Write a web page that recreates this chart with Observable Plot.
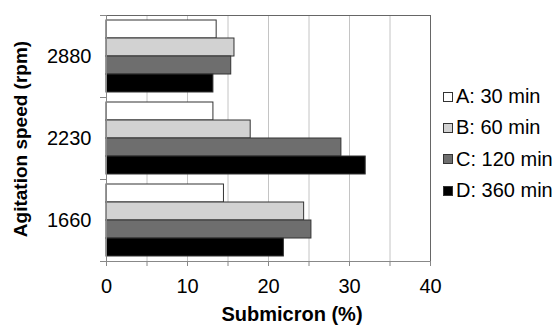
<!DOCTYPE html>
<html>
<head>
<meta charset="utf-8">
<script src="https://cdn.jsdelivr.net/npm/d3@7"></script>
<script src="https://cdn.jsdelivr.net/npm/@observablehq/plot@0.6"></script>
<style>
  html, body { margin: 0; padding: 0; background: #fff; }
  #wrap { position: relative; width: 560px; height: 326px; overflow: hidden;
          font-family: "Liberation Sans", Arial, sans-serif; color: #000; }
  #ytitle { position: absolute; left: 20px; top: 139px; transform: translate(-50%, -50%) rotate(-90deg);
            white-space: nowrap; font-weight: bold; font-size: 19px; line-height: 1; }
  #xtitle { position: absolute; left: 292px; top: 314px; transform: translate(-50%, -50%);
            white-space: nowrap; font-weight: bold; font-size: 20px; line-height: 1; }
  #legend { position: absolute; left: 443px; top: 81px; font-size: 20px; }
  .row { display: flex; align-items: center; height: 31.3px; white-space: nowrap; }
  .sw { width: 8px; height: 8px; border: 1px solid #333; margin-right: 3px; flex: none; }
</style>
</head>
<body>
<div id="wrap">
  <div id="chart"></div>
  <div id="ytitle"></div>
  <div id="xtitle"></div>
  <div id="legend"></div>
</div>
<script>
// Data
const speeds = ["2880", "2230", "1660"];
const series = ["A: 30 min", "B: 60 min", "C: 120 min", "D: 360 min"];
const A30  = [13.6, 13.2, 14.5];
const B60  = [15.8, 17.8, 24.4];
const C120 = [15.4, 29.0, 25.3];
const D360 = [13.2, 32.0, 21.9];
const xTicks = [0, 5, 10, 15, 20, 25, 30, 35, 40];
const colors = ["#ffffff", "#d2d2d2", "#6e6e6e", "#000000"];
const yTitle = "Agitation speed (rpm)";
const xTitle = "Submicron (%)";

const seriesValues = [A30, B60, C120, D360];
const data = [];
speeds.forEach((s, i) => series.forEach((k, j) => data.push({speed: s, series: k, value: seriesValues[j][i]})));

const chart = Plot.plot({
  width: 560,
  height: 326,
  marginLeft: 106,
  marginRight: 130,
  marginTop: 14,
  marginBottom: 65,
  style: {fontFamily: "'Liberation Sans', Arial, sans-serif", fontSize: "20px", color: "#000", background: "#fff", overflow: "visible"},
  x: {domain: [0, 40], axis: null},
  y: {domain: series, paddingInner: 0, paddingOuter: 0.22, axis: null},
  fy: {domain: speeds, padding: 0, axis: null},
  color: {domain: series, range: colors},
  marks: [
    Plot.gridX(xTicks, {stroke: "#c4c4c4", strokeOpacity: 1}),
    Plot.barX(data, {fy: "speed", y: "series", x: "value", fill: "series", stroke: "#333", strokeWidth: 1}),
    Plot.ruleX([0], {stroke: "#888"}),
    Plot.ruleX([40], {stroke: "#666"}),
    Plot.frame({anchor: "top", facetAnchor: "top", stroke: "#666"}),
    Plot.frame({anchor: "top", stroke: "#888", insetLeft: -6, insetRight: 324}),
    Plot.frame({anchor: "bottom", facetAnchor: "bottom", stroke: "#888", insetLeft: -6}),
    Plot.axisX({ticks: xTicks, tickSize: 5, tickPadding: 12, fontSize: 20, stroke: "#888",
                tickFormat: d => (d % 10 === 0 ? String(d) : ""), label: null}),
    Plot.axisFy({anchor: "left", tickSize: 0, tickPadding: 15, fontSize: 20, label: null})
  ]
});
document.getElementById("chart").appendChild(chart);
document.getElementById("ytitle").textContent = yTitle;
document.getElementById("xtitle").textContent = xTitle;

const legend = document.getElementById("legend");
series.forEach((s, i) => {
  const row = document.createElement("div");
  row.className = "row";
  const sw = document.createElement("span");
  sw.className = "sw";
  sw.style.background = colors[i];
  const t = document.createElement("span");
  t.textContent = s;
  row.appendChild(sw);
  row.appendChild(t);
  legend.appendChild(row);
});
</script>
</body>
</html>
